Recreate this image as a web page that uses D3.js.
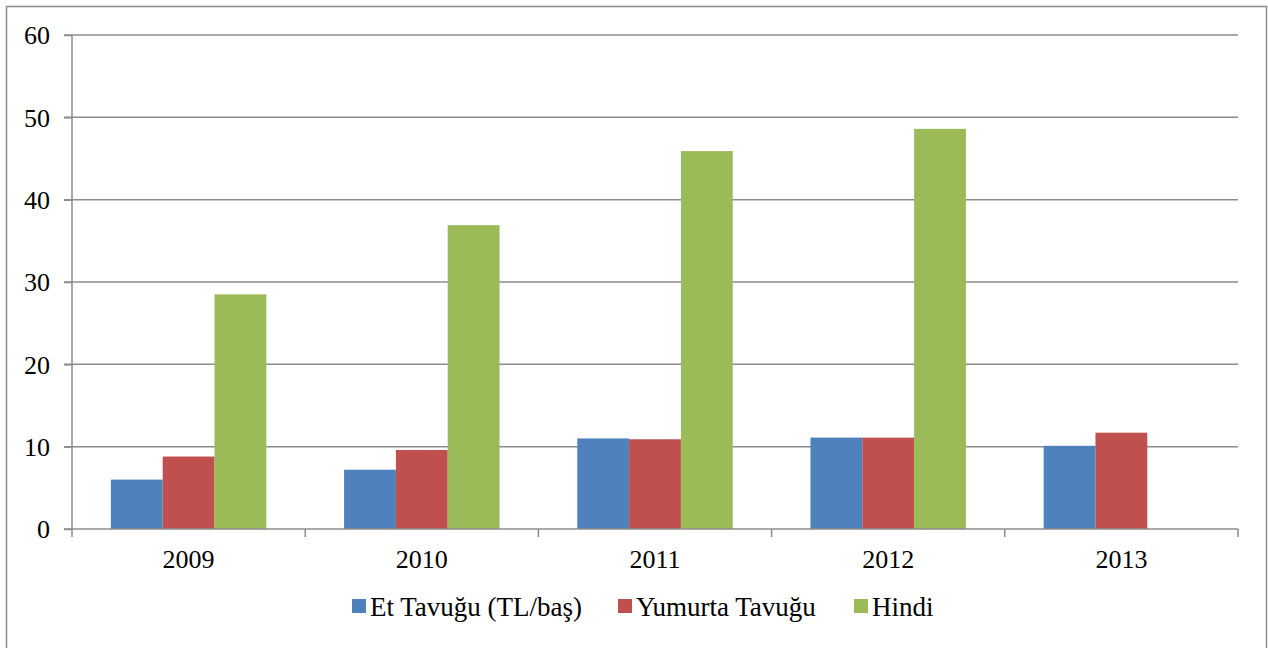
<!DOCTYPE html>
<meta charset="utf-8">
<head>
  <title>Et Tavuğu, Yumurta Tavuğu, Hindi 2009-2013</title>
</head>

<style>
body {
  margin: 0;
  background: white;
}
svg {
  display: block;
}
.grid line {
  stroke: #8c8c8c;
  stroke-width: 1.5;
}
.axis path, .axis line {
  stroke: #8c8c8c;
  stroke-width: 1.5;
}
</style>

<body>
<div id="chart"></div>

<script src="https://cdnjs.cloudflare.com/ajax/libs/d3/7.8.5/d3.min.js"></script>
<script>
// data
var years = ["2009", "2010", "2011", "2012", "2013"];
var seriesNames = ["Et Tavuğu (TL/baş)", "Yumurta Tavuğu", "Hindi"];
var etTavugu = [6.0, 7.2, 11.0, 11.1, 10.1];
var yumurtaTavugu = [8.8, 9.6, 10.9, 11.1, 11.7];
var hindi = [28.5, 36.9, 45.9, 48.6, null];
var yTicks = [0, 10, 20, 30, 40, 50, 60];
var colours = ["#4f81bd", "#c0504d", "#9bbb59"];

var serifFont = "'Liberation Serif', 'Times New Roman', 'DejaVu Serif', serif";

var width = 1268, height = 648;
var plotLeft = 72, plotRight = 1238, plotTop = 35, plotBottom = 529;

var svg = d3.select("#chart")
  .append("svg")
  .attr("width", width)
  .attr("height", height)
  .attr("font-family", serifFont);

// outer frame
svg.append("rect")
  .attr("x", 6.5).attr("y", 6.5)
  .attr("width", 1260).attr("height", 660)
  .attr("fill", "none")
  .attr("stroke", "#8c8c8c")
  .attr("stroke-width", 1.5);

var x = d3.scaleBand()
  .domain(years)
  .range([plotLeft, plotRight]);

var seriesVals = [etTavugu, yumurtaTavugu, hindi];
// excel style: gap width 150% -> outer padding 0.75 of a bar on each side
var x1 = d3.scaleBand()
  .domain(d3.range(seriesNames.length))
  .range([0, x.bandwidth()])
  .paddingInner(0)
  .paddingOuter(0.75);

var y = d3.scaleLinear()
  .domain([0, 60])
  .range([plotBottom, plotTop]);

// gridlines
svg.append("g")
  .attr("class", "grid")
  .selectAll("line")
  .data(yTicks.filter(function(d) { return d > 0 }))
  .enter()
  .append("line")
  .attr("x1", plotLeft - 8).attr("x2", plotRight)
  .attr("y1", function(d) { return y(d) })
  .attr("y2", function(d) { return y(d) });

// bars
var rows = [];
years.forEach(function(yr, i) {
  seriesVals.forEach(function(vals, s) {
    if (vals[i] != null) rows.push({year: yr, s: s, v: vals[i]});
  });
});

svg.append("g")
  .selectAll("rect")
  .data(rows)
  .enter()
  .append("rect")
  .attr("x", function(d) { return x(d.year) + x1(d.s) })
  .attr("width", x1.bandwidth())
  .attr("y", function(d) { return y(d.v) })
  .attr("height", function(d) { return y(0) - y(d.v) })
  .attr("fill", function(d) { return colours[d.s] });

// y axis
var yAxis = svg.append("g")
  .attr("class", "axis")
  .attr("transform", "translate(" + plotLeft + ",0)")
  .call(d3.axisLeft(y).tickValues(yTicks).tickSize(8).tickPadding(14).tickFormat(d3.format("d")));
yAxis.attr("font-family", serifFont).attr("font-size", 26);
yAxis.select(".domain").attr("d", "M0," + plotTop + "V" + plotBottom);
yAxis.selectAll("text").attr("fill", "#000").attr("dy", "0.34em");

// x axis
var xAxis = svg.append("g")
  .attr("class", "axis")
  .attr("transform", "translate(0," + plotBottom + ")");
xAxis.append("line")
  .attr("x1", plotLeft - 8).attr("x2", plotRight)
  .attr("y1", 0).attr("y2", 0);
xAxis.selectAll(".tick")
  .data(years.concat(["end"]))
  .enter()
  .append("line")
  .attr("x1", function(d) { return d === "end" ? plotRight : x(d) })
  .attr("x2", function(d) { return d === "end" ? plotRight : x(d) })
  .attr("y1", 0).attr("y2", 8);
xAxis.selectAll("text")
  .data(years)
  .enter()
  .append("text")
  .attr("x", function(d) { return x(d) + x.bandwidth() / 2 })
  .attr("y", 39)
  .attr("text-anchor", "middle")
  .attr("font-size", 26)
  .attr("fill", "#000")
  .text(function(d) { return d });

// legend
var legendX = [352, 618, 854];
var legend = svg.append("g")
  .selectAll("g")
  .data(seriesNames)
  .enter()
  .append("g")
  .attr("transform", function(d, i) { return "translate(" + legendX[i] + ",599)" });
legend.append("rect")
  .attr("x", 0).attr("y", 0)
  .attr("width", 14).attr("height", 14)
  .attr("fill", function(d, i) { return colours[i] });
legend.append("text")
  .attr("x", 18).attr("y", 17)
  .attr("font-size", 27)
  .attr("fill", "#000")
  .text(function(d) { return d });
</script>
</body>
</html>
